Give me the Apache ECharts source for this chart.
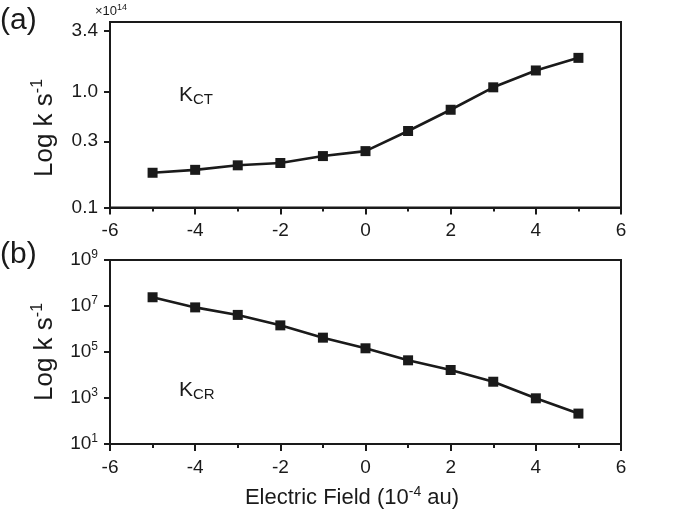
<!DOCTYPE html>
<html>
<head>
<meta charset="utf-8">
<script src="https://cdn.jsdelivr.net/npm/echarts@6/dist/echarts.min.js"></script>
<style>
  html, body { margin: 0; padding: 0; background: #fff; }
  #main { width: 675px; height: 512px; }
</style>
</head>
<body>
<div id="main"></div>
<script>
// electric field, 10^-4 au
var fieldValues = [-5, -4, -3, -2, -1, 0, 1, 2, 3, 4, 5]
// K_CT in units of 10^14 s^-1
var kCT = [0.200, 0.212, 0.232, 0.243, 0.279, 0.308, 0.460, 0.703, 1.10, 1.54, 1.98]
// K_CR in s^-1
var kCR = [2.4e7, 8.7e6, 4.1e6, 1.44e6, 4.2e5, 1.45e5, 4.35e4, 1.65e4, 5.1e3, 9.7e2, 2.1e2]

// top panel y ticks (value -> label)
var topTickValues = [0.1, 0.375, 1.0, 3.4]
var topTickLabels = ['0.1', '0.3', '1.0', '3.4']
// bottom panel y ticks
var bottomTickValues = [1e1, 1e3, 1e5, 1e7, 1e9]

var FONT = "'Liberation Sans', Arial, Helvetica, sans-serif"
var BLACK = '#1a1a1a'

function pairs(ys) {
  return fieldValues.map(function (x, i) { return [x, ys[i]] })
}

function xAxisFor(gridIndex) {
  return {
    type: 'value',
    gridIndex: gridIndex,
    min: -6,
    max: 6,
    interval: 2,
    axisLine: { onZero: false, lineStyle: { color: BLACK, width: 2 } },
    axisTick: { inside: false, length: 7, lineStyle: { color: BLACK, width: 2 } },
    minorTick: { show: true, splitNumber: 2, length: 4, lineStyle: { color: BLACK, width: 2 } },
    splitLine: { show: false },
    axisLabel: { color: BLACK, fontFamily: FONT, fontSize: 19, margin: 14 }
  }
}

var supRich = {
  sup: { fontSize: 12, fontFamily: FONT, color: BLACK, verticalAlign: 'top', lineHeight: 12 },
  base: { fontSize: 19, fontFamily: FONT, color: BLACK, lineHeight: 22 }
}

function titleText(x, y) {
  return {
    type: 'text', x: x, y: y, rotation: Math.PI / 2,
    style: {
      text: '{b|Log k s}{s|-1}', align: 'center', verticalAlign: 'middle',
      rich: {
        b: { fontSize: 26, fontFamily: FONT, fill: BLACK, lineHeight: 30 },
        s: { fontSize: 16, fontFamily: FONT, fill: BLACK, verticalAlign: 'top', lineHeight: 16 }
      }
    }
  }
}

function kLabel(x, y, sub) {
  return {
    type: 'text', x: x, y: y,
    style: {
      text: '{b|K}{s|' + sub + '}',
      rich: {
        b: { fontSize: 21, fontFamily: FONT, fill: BLACK, lineHeight: 24 },
        s: { fontSize: 15, fontFamily: FONT, fill: BLACK, verticalAlign: 'bottom', lineHeight: 15 }
      }
    }
  }
}

var myChart = echarts.init(document.getElementById('main'), null, { renderer: 'canvas' })

var option = {
  backgroundColor: '#fff',
  animation: false,
  grid: [
    { left: 110, width: 511, top: 22, height: 185.5, show: true, borderColor: BLACK, borderWidth: 2, backgroundColor: 'transparent' },
    { left: 110, width: 511, top: 260, height: 184, show: true, borderColor: BLACK, borderWidth: 2, backgroundColor: 'transparent' }
  ],
  xAxis: [xAxisFor(0), xAxisFor(1)],
  yAxis: [
    {
      type: 'log',
      gridIndex: 0,
      min: 0.1,
      max: 4.05,
      axisLine: { onZero: false, lineStyle: { color: BLACK, width: 2 } },
      axisTick: { length: 6, customValues: topTickValues, lineStyle: { color: BLACK, width: 2 } },
      splitLine: { show: false },
      axisLabel: {
        customValues: topTickValues,
        color: BLACK, fontFamily: FONT, fontSize: 19, margin: 12,
        formatter: function (v) {
          var best = 0
          topTickValues.forEach(function (t, i) {
            if (Math.abs(Math.log(t) - Math.log(v)) < Math.abs(Math.log(topTickValues[best]) - Math.log(v))) best = i
          })
          return topTickLabels[best]
        }
      }
    },
    {
      type: 'log',
      gridIndex: 1,
      min: 1e1,
      max: 1e9,
      axisLine: { onZero: false, lineStyle: { color: BLACK, width: 2 } },
      axisTick: { length: 6, customValues: bottomTickValues, lineStyle: { color: BLACK, width: 2 } },
      splitLine: { show: false },
      axisLabel: {
        customValues: bottomTickValues,
        margin: 12,
        formatter: function (v) {
          var e = Math.round(Math.log(v) / Math.LN10)
          return '{base|10}{sup|' + e + '}'
        },
        rich: supRich
      }
    }
  ],
  graphic: [
    { type: 'text', left: 0, top: 6, style: { text: '(a)', font: '30px ' + FONT, fill: BLACK } },
    { type: 'text', left: 0, top: 240, style: { text: '(b)', font: '30px ' + FONT, fill: BLACK } },
    {
      type: 'text', x: 95, y: 3,
      style: {
        text: '{b|×10}{s|14}',
        rich: {
          b: { fontSize: 13, fontFamily: FONT, fill: BLACK, lineHeight: 16 },
          s: { fontSize: 9, fontFamily: FONT, fill: BLACK, verticalAlign: 'top', lineHeight: 9 }
        }
      }
    },
    titleText(45, 128),
    titleText(45, 352),
    kLabel(179, 83, 'CT'),
    kLabel(179, 378, 'CR'),
    {
      type: 'text', x: 352, y: 498,
      style: {
        text: '{b|Electric Field (10}{s|-4}{b| au)}', align: 'center', verticalAlign: 'middle',
        rich: {
          b: { fontSize: 22, fontFamily: FONT, fill: BLACK, lineHeight: 26 },
          s: { fontSize: 14, fontFamily: FONT, fill: BLACK, verticalAlign: 'top', lineHeight: 14 }
        }
      }
    }
  ],
  series: [
    {
      type: 'line', xAxisIndex: 0, yAxisIndex: 0,
      data: pairs(kCT),
      symbol: 'rect', symbolSize: 10,
      itemStyle: { color: BLACK },
      lineStyle: { color: BLACK, width: 2.6 }
    },
    {
      type: 'line', xAxisIndex: 1, yAxisIndex: 1,
      data: pairs(kCR),
      symbol: 'rect', symbolSize: 10,
      itemStyle: { color: BLACK },
      lineStyle: { color: BLACK, width: 2.6 }
    }
  ]
}

myChart.setOption(option)
</script>
</body>
</html>
